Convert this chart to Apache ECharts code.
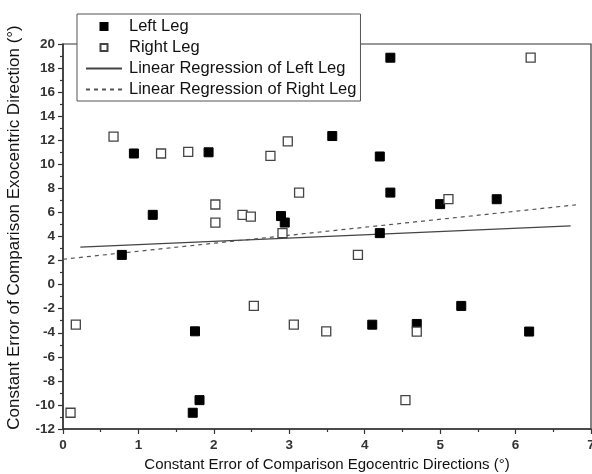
<!DOCTYPE html>
<html>
<head>
<meta charset="utf-8">
<script src="https://cdn.jsdelivr.net/npm/echarts@6/dist/echarts.min.js"></script>
<style>
  html, body { margin: 0; padding: 0; background: #fff; }
  #main { width: 592px; height: 474px; }
</style>
</head>
<body>
<div id="main"></div>
<script>
// Left leg (filled squares): [egocentric, exocentric]
var leftX = [0.94, 1.19, 1.93, 2.89, 2.94, 4.34, 3.57, 4.20, 4.34, 5.00,
             5.75, 4.20, 0.78, 1.75, 1.81, 1.72, 4.10, 4.69, 5.28, 6.18];
var leftY = [10.9, 5.8, 11.0, 5.7, 5.16, 18.86, 12.35, 10.65, 7.65, 6.69,
             7.1, 4.28, 2.47, -3.88, -9.6, -10.65, -3.33, -3.27, -1.77, -3.9];
// Right leg (open squares)
var rightX = [0.67, 1.30, 1.66, 2.02, 2.02, 2.38, 2.49, 2.75, 2.98, 3.13,
              2.91, 6.20, 5.11, 0.17, 0.10, 2.53, 3.06, 3.91, 3.49, 4.69, 4.54];
var rightY = [12.3, 10.9, 11.04, 6.66, 5.16, 5.8, 5.66, 10.7, 11.9, 7.65,
              4.28, 18.86, 7.1, -3.33, -10.65, -1.77, -3.33, 2.47, -3.88, -3.9, -9.6];
// regression line end points
var leftFitX = [0.23, 6.73];
var leftFitY = [3.11, 4.88];
var rightFitX = [0.0, 6.8];
var rightFitY = [2.11, 6.63];

var seriesNames = ['Left Leg', 'Right Leg', 'Linear Regression of Left Leg', 'Linear Regression of Right Leg'];

function pairs(xs, ys) {
    return xs.map(function (x, i) { return [x, ys[i]]; });
}

var chartDom = document.getElementById('main');
var myChart = echarts.init(chartDom, null, { renderer: 'canvas' });
var font = "'Liberation Sans', Arial, sans-serif";
var squareIcon = 'path://M0,0h10v10h-10z';
var hiddenDot = { color: 'rgba(0,0,0,0)', borderColor: 'rgba(0,0,0,0)', borderWidth: 0, opacity: 0 };

var option = {
    animation: false,
    textStyle: { fontFamily: font },
    grid: {
        left: 63, right: 1, top: 44, bottom: 45,
        containLabel: false,
        outerBoundsMode: 'none',
        show: true, borderColor: '#333', borderWidth: 1.2, backgroundColor: 'transparent'
    },
    legend: {
        orient: 'vertical',
        left: 77, top: 14,
        padding: [2, 4, 1, 8],
        itemGap: 0,
        itemWidth: 36,
        itemHeight: 7,
        backgroundColor: '#fff',
        borderColor: '#555',
        borderWidth: 1,
        textStyle: { fontFamily: font, fontSize: 16.5, lineHeight: 21, color: '#111', padding: [0, 0, 0, 2] },
        data: [
            { name: seriesNames[0], icon: squareIcon },
            { name: seriesNames[1], icon: squareIcon },
            { name: seriesNames[2], itemStyle: hiddenDot },
            { name: seriesNames[3], itemStyle: hiddenDot }
        ]
    },
    xAxis: {
        type: 'value',
        min: 0, max: 7, interval: 1,
        name: 'Constant Error of Comparison Egocentric Directions (°)',
        nameLocation: 'middle',
        nameGap: 24,
        nameTextStyle: { fontFamily: font, fontSize: 15, color: '#111' },
        axisLine: { onZero: false, lineStyle: { color: '#333', width: 1.5 } },
        axisTick: { inside: false, length: 5, lineStyle: { color: '#333', width: 1.2 } },
        minorTick: { show: true, splitNumber: 2, length: 3, lineStyle: { color: '#333', width: 1.2 } },
        axisLabel: { fontFamily: font, fontSize: 13.5, fontWeight: 'bold', color: '#333', margin: 9, showMaxLabel: true },
        splitLine: { show: false }
    },
    yAxis: {
        type: 'value',
        min: -12, max: 20, interval: 2,
        name: 'Constant Error of Comparison Exocentric Direction (°)',
        nameLocation: 'middle',
        nameGap: 40,
        nameTextStyle: { fontFamily: font, fontSize: 17, color: '#111', padding: [0, 0, 0, 18] },
        axisLine: { onZero: false, lineStyle: { color: '#333', width: 1.5 } },
        axisTick: { inside: false, length: 5, lineStyle: { color: '#333', width: 1.2 } },
        minorTick: { show: true, splitNumber: 2, length: 3, lineStyle: { color: '#333', width: 1.2 } },
        axisLabel: { fontFamily: font, fontSize: 13.5, fontWeight: 'bold', color: '#333', margin: 8 },
        splitLine: { show: false }
    },
    series: [
        {
            name: seriesNames[0],
            type: 'scatter',
            symbol: 'rect',
            symbolSize: 9,
            itemStyle: { color: '#000', borderColor: '#000', borderWidth: 1, opacity: 1 },
            data: pairs(leftX, leftY),
            z: 3
        },
        {
            name: seriesNames[1],
            type: 'scatter',
            symbol: 'rect',
            symbolSize: 9,
            itemStyle: { color: '#fff', borderColor: '#444', borderWidth: 1.3, opacity: 1 },
            data: pairs(rightX, rightY),
            z: 4
        },
        {
            name: seriesNames[2],
            type: 'line',
            symbol: 'none',
            showSymbol: false,
            color: '#444',
            lineStyle: { color: '#444', width: 1.2, type: 'solid' },
            data: pairs(leftFitX, leftFitY),
            z: 2
        },
        {
            name: seriesNames[3],
            type: 'line',
            symbol: 'none',
            showSymbol: false,
            color: '#555',
            lineStyle: { color: '#555', width: 1.2, type: [4, 4] },
            data: pairs(rightFitX, rightFitY),
            z: 2
        }
    ]
};
option && myChart.setOption(option);
</script>
</body>
</html>
